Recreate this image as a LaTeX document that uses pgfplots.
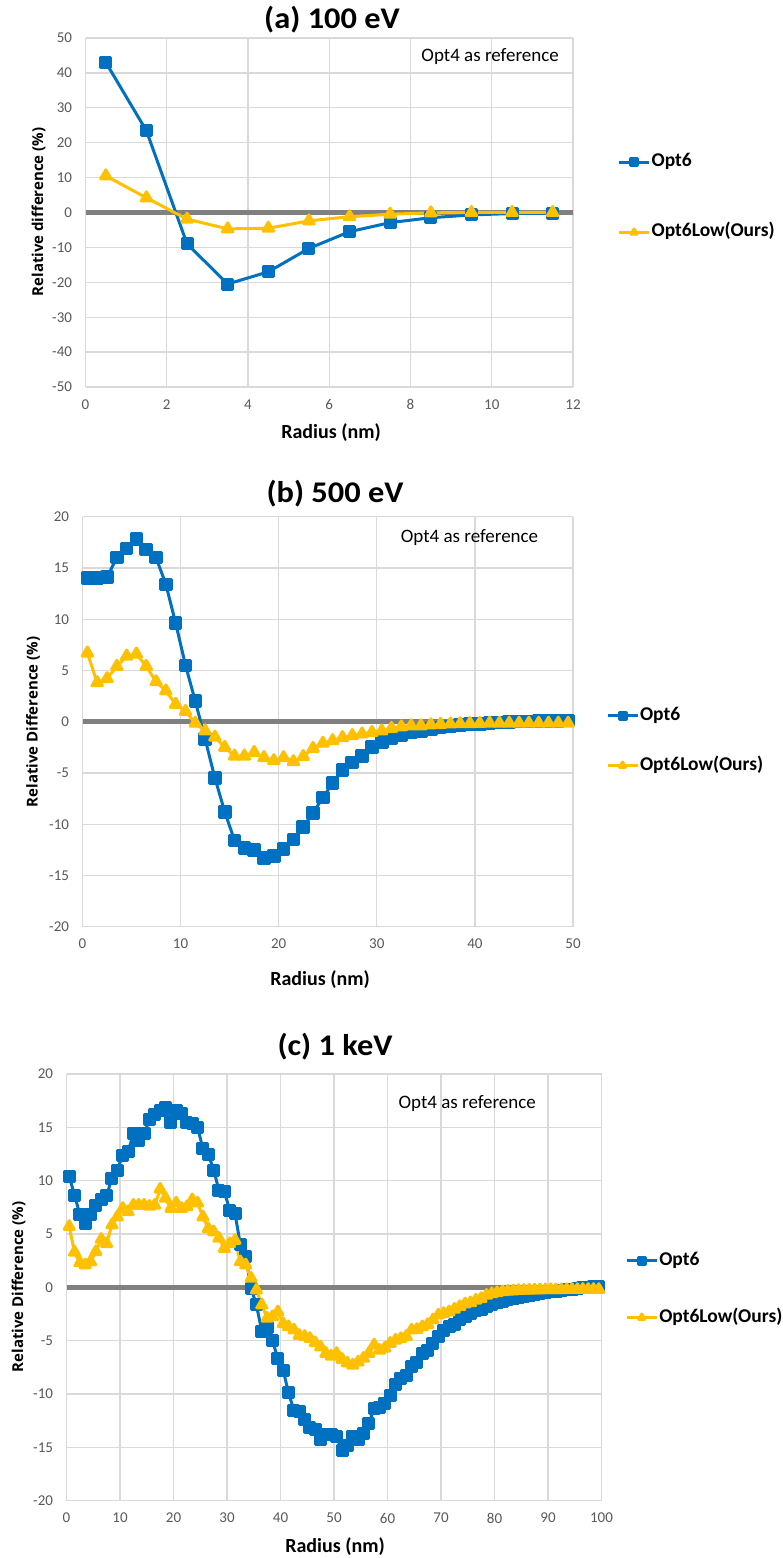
\documentclass[border=0pt]{standalone}
\usepackage{pgfplots}
\pgfplotsset{compat=1.18}
\usepackage{pgfplotstable}
\usepackage{fontspec}
\setmainfont{Carlito}
\newfontfamily\labfont{Open Sans}

\definecolor{optblue}{HTML}{0070C0}
\definecolor{optgold}{HTML}{FFC000}
\definecolor{gridgray}{HTML}{D9D9D9}
\definecolor{zerogray}{HTML}{808080}
\definecolor{tickgray}{HTML}{595959}

\newcommand\fs[1]{\fontsize{#1}{#1}\selectfont}

% (a) 100 eV
\pgfplotstableread{
x     opt6   low
0.5   43.0   10.5
1.5   23.4   4.2
2.5   -9.0   -1.9
3.5   -20.5  -4.7
4.5   -17.0  -4.5
5.5   -10.3  -2.4
6.5   -5.5   -1.2
7.5   -2.9   -0.5
8.5   -1.5   -0.1
9.5   -0.7   0.0
10.5  -0.3   0.0
11.5  -0.2   0.0
}\tabA

% (b) 500 eV
\pgfplotstableread{
x     opt6   low
0.5   14.0   6.7
1.5   14.0   3.8
2.5   14.1   4.2
3.5   16.0   5.4
4.5   16.9   6.4
5.5   17.8   6.6
6.5   16.8   5.4
7.5   16.0   3.9
8.5   13.4   3.0
9.5   9.6    1.7
10.5  5.5    1.0
11.5  2.0    -0.15
12.5  -1.7   -0.9
13.5  -5.5   -1.5
14.5  -8.8   -2.5
15.5  -11.6  -3.35
16.5  -12.3  -3.35
17.5  -12.5  -3.0
18.5  -13.3  -3.5
19.5  -13.1  -3.8
20.5  -12.4  -3.5
21.5  -11.5  -3.9
22.5  -10.3  -3.4
23.5  -8.9   -2.6
24.5  -7.4   -2.1
25.5  -6.0   -1.85
26.5  -4.7   -1.55
27.5  -4.0   -1.35
28.5  -3.35  -1.2
29.5  -2.45  -1.05
30.5  -2.0   -0.9
31.5  -1.6   -0.65
32.5  -1.3   -0.5
33.5  -1.05  -0.4
34.5  -0.9   -0.4
35.5  -0.7   -0.3
36.5  -0.55  -0.25
37.5  -0.45  -0.22
38.5  -0.35  -0.2
39.5  -0.25  -0.18
40.5  -0.2   -0.16
41.5  -0.12  -0.15
42.5  -0.07  -0.15
43.5  -0.03  -0.15
44.5  0.0    -0.15
45.5  0.03   -0.15
46.5  0.05   -0.15
47.5  0.07   -0.15
48.5  0.08   -0.15
49.5  0.1    -0.15
}\tabB

% (c) 1 keV
\pgfplotstableread{
x     opt6   low
0.5   10.4   5.7
1.5   8.65   3.3
2.5   6.8    2.3
3.5   6.0    2.1
4.5   6.8    2.4
5.5   7.7    3.35
6.5   8.2    4.5
7.5   8.65   4.1
8.5   10.2   5.85
9.5   11.0   6.6
10.5  12.4   7.4
11.5  12.7   7.1
12.5  14.4   7.7
13.5  13.8   7.7
14.5  14.4   7.7
15.5  15.7   7.6
16.5  16.2   7.7
17.5  16.6   9.2
18.5  16.9   8.35
19.5  15.5   7.4
20.5  16.6   7.9
21.5  16.3   7.4
22.5  15.5   7.55
23.5  15.4   8.2
24.5  15.0   7.9
25.5  13.0   6.6
26.5  12.5   5.5
27.5  11.0   5.2
28.5  9.1    4.6
29.5  9.0    3.65
30.5  7.25   4.1
31.5  6.9    4.4
32.5  4.0    2.4
33.5  2.9    2.1
34.5  -0.1   0.85
35.5  -1.65  -0.25
36.5  -4.1   -1.65
37.5  -3.8   -2.9
38.5  -5.0   -2.75
39.5  -6.65  -2.3
40.5  -7.75  -3.4
41.5  -9.9   -3.7
42.5  -11.5  -4.0
43.5  -11.6  -4.5
44.5  -12.4  -4.6
45.5  -13.1  -4.8
46.5  -13.3  -5.2
47.5  -14.3  -5.6
48.5  -13.8  -6.2
49.5  -13.8  -6.45
50.5  -14.0  -6.2
51.5  -15.25 -6.75
52.5  -14.8  -7.1
53.5  -14.0  -7.3
54.5  -14.3  -7.0
55.5  -13.7  -6.65
56.5  -12.75 -6.2
57.5  -11.4  -5.4
58.5  -11.3  -5.9
59.5  -10.9  -5.7
60.5  -10.1  -5.25
61.5  -9.15  -4.95
62.5  -8.5   -4.8
63.5  -8.3   -4.6
64.5  -7.4   -4.0
65.5  -7.0   -3.95
66.5  -6.2   -3.7
67.5  -5.9   -3.5
68.5  -5.25  -3.05
69.5  -4.6   -2.6
70.5  -4.0   -2.45
71.5  -3.7   -2.3
72.5  -3.5   -2.05
73.5  -3.05  -1.8
74.5  -2.75  -1.55
75.5  -2.45  -1.45
76.5  -2.2   -1.2
77.5  -2.1   -1.05
78.5  -1.8   -0.75
79.5  -1.65  -0.6
80.5  -1.45  -0.5
81.5  -1.3   -0.42
82.5  -1.15  -0.36
83.5  -1.05  -0.33
84.5  -0.95  -0.3
85.5  -0.85  -0.28
86.5  -0.75  -0.26
87.5  -0.65  -0.25
88.5  -0.55  -0.24
89.5  -0.5   -0.23
90.5  -0.42  -0.22
91.5  -0.36  -0.22
92.5  -0.3   -0.22
93.5  -0.24  -0.21
94.5  -0.18  -0.21
95.5  -0.12  -0.21
96.5  -0.06  -0.2
97.5  0.0    -0.2
98.5  0.05   -0.2
99.5  0.1    -0.2
}\tabC

\pgfplotsset{
  panel/.style={
    scale only axis,
    axis line style={draw=none},
    major tick length=0pt,
    grid=major,
    grid style={gridgray, line width=1.3pt},
    tick label style={font=\fs{15pt}, text=tickgray},
    /pgf/number format/assume math mode=true,
    xticklabel style={yshift=-9pt},
    yticklabel style={xshift=-10pt},
    clip=false,
    legend cell align=left,
    legend image code/.code={%
      \draw[mark repeat=2, mark phase=2, mark size=3.5pt, line width=3pt]
        plot coordinates {(0pt,0pt) (15pt,0pt) (30pt,0pt)};},
    legend style={draw=none, fill=none, inner sep=0pt, anchor=west,
      font=\bfseries\fs{19.5pt},
      nodes={inner sep=1pt, text height=13pt, text depth=4pt}},
  },
  s6/.style={optblue, line width=3pt, line join=round, mark=square*, mark size=5pt},
  s6low/.style={optgold, line width=3pt, line join=round, mark=triangle*, mark size=6pt},
  zeroline/.style={zerogray, line width=5pt, forget plot},
}

\begin{document}
\begin{tikzpicture}[x=1pt,y=1pt]
\path[use as bounding box, fill=white] (0,0) rectangle (783,1558);

% ---------------- (a) 100 eV ----------------
\begin{axis}[panel,
  at={(85.5pt,1171pt)}, anchor=south west,
  width=487.5pt, height=349pt,
  xmin=0, xmax=12, ymin=-50, ymax=50,
  xtick={0,2,...,12}, xticklabels={0,2,4,6,8,10,12},
  ytick={-50,-40,...,50},
  yticklabels={-50,-40,-30,-20,-10,0,10,20,30,40,50},
  legend style={at={(rel axis cs:1.091,0.543)}, row sep=51pt},
]
\addplot[zeroline] coordinates {(0,0) (12,0)};
\addplot[s6] table[x=x,y=opt6] {\tabA};
\addlegendentry{Opt6}
\addplot[s6low] table[x=x,y=low] {\tabA};
\addlegendentry{Opt6Low(Ours)}
\node[font=\fs{19pt}] at (rel axis cs:0.83,0.947) {Opt4 as reference};
\end{axis}

% ---------------- (b) 500 eV ----------------
\begin{axis}[panel,
  at={(82.5pt,631.3pt)}, anchor=south west,
  width=490.5pt, height=410pt,
  xmin=0, xmax=50, ymin=-20, ymax=20,
  xtick={0,10,...,50}, xticklabels={0,10,20,30,40,50},
  ytick={-20,-15,...,20},
  yticklabels={-20,-15,-10,-5,0,5,10,15,20},
  legend style={at={(rel axis cs:1.067,0.454)}, row sep=31pt},
]
\addplot[zeroline] coordinates {(0,0) (50,0)};
\addplot[s6, mark size=5.3pt] table[x=x,y=opt6] {\tabB};
\addlegendentry{Opt6}
\addplot[s6low] table[x=x,y=low] {\tabB};
\addlegendentry{Opt6Low(Ours)}
\node[font=\fs{19pt}] at (rel axis cs:0.789,0.95) {Opt4 as reference};
\end{axis}

% ---------------- (c) 1 keV ----------------
\begin{axis}[panel,
  at={(66.5pt,57.3pt)}, anchor=south west,
  width=535pt, height=426.7pt,
  xmin=0, xmax=100, ymin=-20, ymax=20,
  xtick={0,10,...,100}, xticklabels={0,10,20,30,40,50,60,70,80,90,100},
  ytick={-20,-15,...,20},
  yticklabels={-20,-15,-10,-5,0,5,10,15,20},
  legend style={at={(rel axis cs:1.044,0.496)}, row sep=38pt},
]
\addplot[zeroline] coordinates {(0,0) (100,0)};
\addplot[s6] table[x=x,y=opt6] {\tabC};
\addlegendentry{Opt6}
\addplot[s6low, mark size=5.8pt] table[x=x,y=low] {\tabC};
\addlegendentry{Opt6Low(Ours)}
\node[font=\fs{19pt}] at (rel axis cs:0.749,0.93) {Opt4 as reference};
\end{axis}

% titles and axis labels
\node[font=\bfseries\fs{30pt}] at (332,1538) {\scalebox{1.08}[1]{(a) 100 eV}};
\node[font=\bfseries\fs{30pt}] at (335,1064) {\scalebox{1.08}[1]{(b) 500 eV}};
\node[font=\bfseries\fs{30pt}] at (335,511) {\scalebox{1.08}[1]{(c) 1 keV}};

\node[font=\bfseries\fs{20pt}] at (331,1125) {Radius (nm)};
\node[font=\bfseries\fs{20pt}] at (320,578) {Radius (nm)};
\node[font=\bfseries\fs{20pt}] at (335,11.5) {Radius (nm)};

\node[font=\labfont\bfseries\fs{15pt}, rotate=90] at (38.5,1346) {Relative difference (\%)};
\node[font=\labfont\bfseries\fs{15pt}, rotate=90] at (33,836) {Relative Difference (\%)};
\node[font=\labfont\bfseries\fs{15pt}, rotate=90] at (18.5,271) {Relative Difference (\%)};
\end{tikzpicture}
\end{document}
